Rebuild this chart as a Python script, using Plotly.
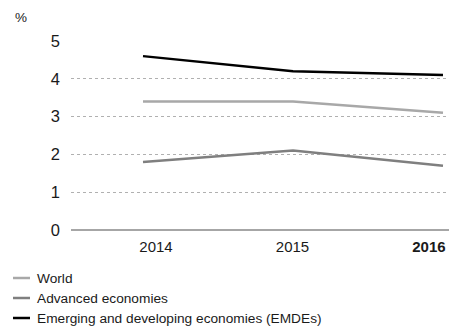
import plotly.graph_objects as go

years = [2014, 2015, 2016]
year_labels = ["2014", "2015", "<b>2016</b>"]
world = [3.4, 3.4, 3.1]
advanced = [1.8, 2.1, 1.7]
emde = [4.6, 4.2, 4.1]
y_ticks = [0, 1, 2, 3, 4, 5]
series_names = ["World", "Advanced economies", "Emerging and developing economies (EMDEs)"]
series_colors = ["#a8a8a8", "#7f7f7f", "#000000"]

fig = go.Figure()
for name, vals, col in zip(series_names, [world, advanced, emde], series_colors):
    fig.add_trace(go.Scatter(x=years, y=vals, mode="lines", name=name,
                             line=dict(color=col, width=2.5)))
# invisible carrier trace for the label axis
fig.add_trace(go.Scatter(x=years, y=world, xaxis="x2", mode="lines",
                         line=dict(width=0), opacity=0, hoverinfo="skip", showlegend=False))

W, H = 449, 329
ml, mr, mt, mb = 71, 0, 41, 99
pw, ph = W - ml - mr, H - mt - mb

fig.update_layout(
    width=W, height=H,
    margin=dict(l=ml, r=mr, t=mt, b=mb, autoexpand=False),
    paper_bgcolor="white", plot_bgcolor="white",
    font=dict(family="Liberation Sans, Arial, sans-serif", color="#1a1a1a"),
    showlegend=False,
    xaxis=dict(range=[2013.52, 2016.04], showticklabels=False,
               showgrid=False, zeroline=False, showline=False, ticks=""),
    xaxis2=dict(range=[2013.377, 2016.147], overlaying="x", side="bottom",
                tickvals=years, ticktext=year_labels, showgrid=False, zeroline=False,
                showline=False, ticks="", tickfont=dict(size=15, color="#1a1a1a"),
                ticklabelstandoff=6, ticklabeloverflow="allow"),
    yaxis=dict(range=[0, 5], tickvals=y_ticks, showgrid=True, gridcolor="#b0b0b0",
               griddash="dot", gridwidth=1, zeroline=True, zerolinecolor="#a6a6a6",
               zerolinewidth=1.5, showline=False, ticks="", tickfont=dict(size=16.5),
               ticklabelstandoff=10),
)

# manual legend (pixel positions converted to paper coords)
def px(x):
    return (x - ml) / pw

def py(y):
    return (H - mb - y) / ph

for i, (name, col) in enumerate(zip(series_names, series_colors)):
    yy = 278 + i * 20
    fig.add_shape(type="line", xref="paper", yref="paper", x0=px(13), x1=px(30),
                  y0=py(yy), y1=py(yy), line=dict(color=col, width=2.5))
    fig.add_annotation(text=name, xref="paper", yref="paper", x=px(35), y=py(yy),
                       showarrow=False, xanchor="left", yanchor="middle",
                       font=dict(size=13.7, color="#1a1a1a"))

fig.add_annotation(text="%", xref="paper", yref="paper", x=px(21), y=py(17),
                   showarrow=False, xanchor="center", yanchor="middle", font=dict(size=13.5))
fig.write_html("out.html")
